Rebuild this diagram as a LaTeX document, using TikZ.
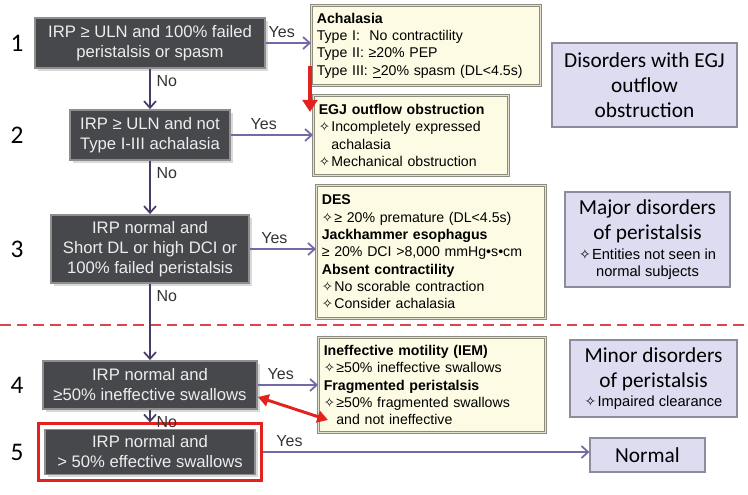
\documentclass[tikz,border=0pt]{standalone}
\usepackage{fontspec}
\setmainfont{Liberation Sans}
\newfontfamily\carl{Carlito}
\newfontfamily\dvs[Scale=0.95]{DejaVu Sans}
\usetikzlibrary{arrows.meta,calc,fit,shadows,positioning}
\definecolor{qfill}{HTML}{46484C}
\definecolor{qbord}{HTML}{8E8E8E}
\definecolor{qtext}{HTML}{EDEDED}
\definecolor{yfill}{HTML}{FDFBE3}
\definecolor{ybord}{HTML}{8E8C7E}
\definecolor{yband}{HTML}{E4E2CC}
\definecolor{pfill}{HTML}{DEDCF0}
\definecolor{pbord}{HTML}{8D8B9E}
\definecolor{arrowp}{HTML}{7468A8}
\definecolor{linep}{HTML}{463C66}
\definecolor{lblc}{HTML}{333333}
\definecolor{redl}{HTML}{E3211F}
\definecolor{dashr}{HTML}{D9464F}
\newcommand{\dia}{{\dvs ✧}\kern1pt}
\newcommand{\smalltxt}{\normalfont\fontsize{11}{13}\selectfont}

\begin{document}
\begin{tikzpicture}[x=0.75pt,y=-0.75pt,
    qstyle/.style={draw=qbord,fill=qfill,line width=1.4pt,text=qtext,align=center,
      font=\fontsize{12.5}{15}\selectfont,
      drop shadow={shadow xshift=2pt,shadow yshift=-2pt,opacity=0.3}},
    ystyle/.style={draw=ybord,double=yband,double distance=1.4pt,line width=0.7pt,
      fill=yfill,anchor=north west,align=left,inner xsep=4pt,inner ysep=2pt,
      font=\fontsize{10.6}{13}\selectfont},
    pstyle/.style={draw=pbord,fill=pfill,line width=0.9pt,align=center,
      font=\carl\fontsize{16}{18.75}\selectfont},
    numstyle/.style={font=\carl\fontsize{19}{20}\selectfont},
    yesline/.style={draw=arrowp,line width=1.3pt,-{Straight Barb[length=5pt,width=9pt]}},
    noline/.style={draw=linep,line width=1.3pt,-{Straight Barb[length=5pt,width=9pt]}},
    lbl/.style={text=lblc,font=\fontsize{12}{14}\selectfont},
    redarrow/.style={draw=redl,line width=2.6pt}]
    \useasboundingbox (0,0) rectangle (748,495);
    \draw[dashr,line width=1.3pt,dash pattern=on 8pt off 4.5pt] (0,325) -- (748,325);

    \node[qstyle,minimum width=172.5pt,minimum height=37.5pt] (q1) at (150,43)
        {IRP ≥ ULN and 100\% failed\\peristalsis or spasm};
    \node[qstyle,minimum width=120pt,minimum height=37.5pt] (q2) at (150,135)
        {IRP ≥ ULN and not\\Type I-III achalasia};
    \node[qstyle,minimum width=148.5pt,minimum height=51pt] (q3) at (150,249)
        {IRP normal and\\Short DL or high DCI or\\100\% failed peristalsis};
    \node[qstyle,minimum width=160.5pt,minimum height=36pt] (q4) at (150,385)
        {IRP normal and\\≥50\% ineffective swallows};
    \node[qstyle,minimum width=157.5pt,minimum height=33.75pt] (q5) at (150,452)
        {IRP normal and\\> 50\% effective swallows};
    \node[draw=redl,line width=2.3pt,fit=(q5),inner xsep=4.5pt,inner ysep=3.5pt] (q5f) {};

    \coordinate (nx) at (17,0);
    \foreach \i in {1,...,5}
        \node[numstyle] (n\i) at (q\i -| nx) {\i};

    \node[ystyle,text width=163.75pt,minimum height=60pt] (ach) at (311,5)
        {\textbf{Achalasia}\\
         Type I:\ \ No contractility\\
         Type II: ≥20\% PEP\\
         Type III: \underline{>}20\% spasm (DL<4.5s)};
    \node[ystyle,text width=138.25pt,minimum height=60pt] (egj) at (313,95)
        {\textbf{EGJ outflow obstruction}\\
         \dia Incompletely expressed\\
         \hphantom{\dia}achalasia\\
         \dia Mechanical obstruction};
    \node[ystyle,text width=163.75pt,minimum height=99.75pt] (des) at (316,185)
        {\textbf{DES}\\
         \dia≥ 20\% premature (DL<4.5s)\\
         \textbf{Jackhammer esophagus}\\
         ≥ 20\% DCI >8,000 mmHg•s•cm\\
         \textbf{Absent contractility}\\
         \dia No scorable contraction\\
         \dia Consider achalasia};
    \node[ystyle,text width=162.25pt,minimum height=71.25pt] (iem) at (318,337)
        {\textbf{Ineffective motility (IEM)}\\
         \dia≥50\% ineffective swallows\\
         \textbf{Fragmented peristalsis}\\
         \dia≥50\% fragmented swallows\\
         \hphantom{\dia}and not ineffective};

    \node[pstyle,minimum width=138.75pt,minimum height=63pt] (egjcls) at (644.5,85)
        {Disorders with EGJ\\outflow\\obstruction};
    \node[pstyle,minimum width=123.75pt,minimum height=71.25pt] (major) at (647.5,239.5)
        {Major disorders\\of peristalsis\\[-4pt]{\smalltxt\dia Entities not seen in}\\[-6pt]{\smalltxt normal subjects}};
    \node[pstyle,minimum width=125.25pt,minimum height=57.75pt] (minor) at (653.5,378.5)
        {Minor disorders\\of peristalsis\\[-5pt]{\smalltxt\dia Impaired clearance}};
    \node[pstyle,minimum width=86.25pt,minimum height=25.5pt] (normal) at (647.5,455) {Normal};

    \foreach \a/\b in {q1/q2,q2/q3,q3/q4,q4/q5f}
        \draw[noline] (\a) -- node[lbl,pos=0,anchor=north west,xshift=1pt,yshift=-1pt] {No} (\b);
    \foreach \q/\r/\p in {q1/ach/0.35,q2/egj/0.4,q3/des/0.37,q4/iem/0.38,q5f/normal/0.08}
        \draw[yesline] (\q.east) -- node[lbl,above,pos=\p] {Yes} (\q.east -| \r.west);

    \draw[redarrow,line width=3pt,-{Triangle[length=9pt,width=11pt]}]
        ($(ach.south west)+(-1,-20)$) -- ($(egj.north west)+(-3,17)$);
    \draw[redarrow,line width=2.2pt,{Triangle[length=8pt,width=9pt]}-{Triangle[length=8pt,width=9pt]}]
        ($(q4.east)+(0,12)$) -- ($(iem.west)+(10,35)$);
\end{tikzpicture}
\end{document}
